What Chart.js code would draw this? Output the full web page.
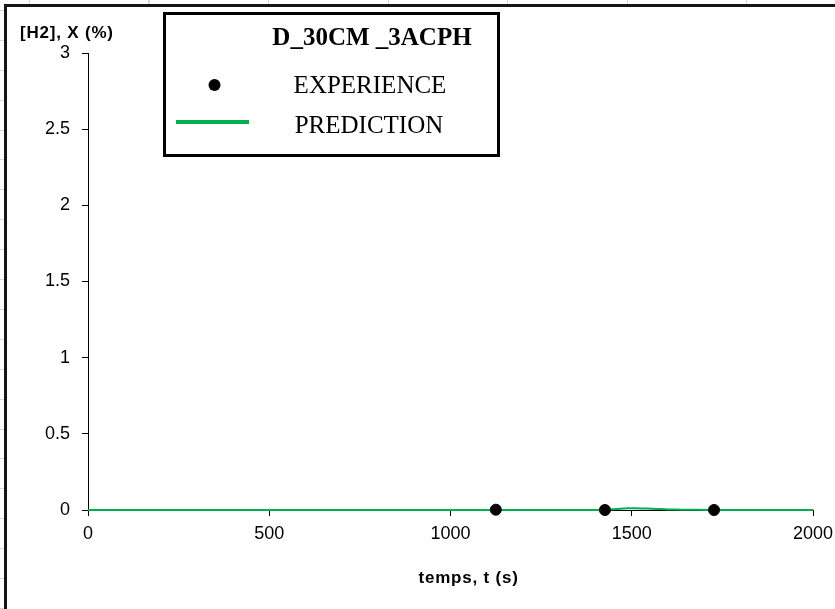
<!DOCTYPE html>
<html>
<head>
<meta charset="utf-8">
<script src="https://cdn.jsdelivr.net/npm/chart.js@4/dist/chart.umd.min.js"></script>
<style>
  html, body { margin: 0; padding: 0; }
  body {
    width: 835px; height: 609px; position: relative; overflow: hidden;
    background-color: #fff;
    background-image:
      repeating-linear-gradient(to right, transparent 0, transparent 29px, #d6d6d6 29px, #d6d6d6 30px, transparent 30px, transparent 119.5px),
      repeating-linear-gradient(to bottom, transparent 0, transparent 10px, #d6d6d6 10px, #d6d6d6 11px, transparent 11px, transparent 29.9px);
  }
  #frame {
    position: absolute; left: 4px; top: 4px; right: -10px; bottom: -10px;
    background: #fff; border-left: 3px solid #151515; border-top: 3px solid #151515;
  }
  #wrap { position: absolute; left: 0; top: 0; width: 835px; height: 609px; }
</style>
</head>
<body>
<div id="frame"></div>
<div id="wrap"><canvas id="c" width="835" height="609"></canvas></div>
<script>
// ---- data ----
const chartTitle = "D_30CM _3ACPH";
const xAxisTitle = "temps, t (s)";
const yAxisTitle = "[H2], X (%)";
const seriesNames = ["EXPERIENCE", "PREDICTION"];

const expTimes  = [1125, 1426, 1727];
const expValues = [0.002, 0, 0];

const predTimes  = [0, 250, 500, 750, 1000, 1250, 1400, 1430, 1460, 1490, 1510, 1540, 1570, 1600, 1640, 1680, 1750, 2000];
const predValues = [0, 0, 0, 0, 0, 0, 0, 0.002, 0.007, 0.011, 0.012, 0.010, 0.007, 0.004, 0.002, 0.001, 0, 0];

const xTickValues = [0, 500, 1000, 1500, 2000];
const xTickLabels = ["0", "500", "1000", "1500", "2000"];
const yTickValues = [0, 0.5, 1, 1.5, 2, 2.5, 3];
const yTickLabels = ["0", "0.5", "1", "1.5", "2", "2.5", "3"];

const expPoints  = expTimes.map((t, i) => ({ x: t, y: expValues[i] }));
const predPoints = predTimes.map((t, i) => ({ x: t, y: predValues[i] }));

const AXIS_FONT = "'Liberation Sans', Arial, sans-serif";
const SERIF = "'Liberation Serif', 'Times New Roman', serif";

const overlay = {
  id: 'overlay',
  afterDraw(chart) {
    const ctx = chart.ctx;
    const a = chart.chartArea;
    ctx.save();
    ctx.fillStyle = '#000';
    ctx.font = "bold 17px " + AXIS_FONT;
    ctx.letterSpacing = "0.8px";
    ctx.textAlign = 'left';
    ctx.textBaseline = 'alphabetic';
    ctx.fillText(yAxisTitle, a.left - 68, a.top - 15);
    ctx.textAlign = 'center';
    ctx.fillText(xAxisTitle, a.left + (a.right - a.left) * 0.525, a.bottom + 73);
    ctx.letterSpacing = "0px";

    const bx = 164.5, by = 13.5, bw = 334, bh = 142;
    ctx.fillStyle = '#fff';
    ctx.fillRect(bx, by, bw, bh);
    ctx.lineWidth = 3;
    ctx.strokeStyle = '#000';
    ctx.strokeRect(bx, by, bw, bh);

    ctx.fillStyle = '#000';
    ctx.textAlign = 'center';
    ctx.font = "bold 25px " + SERIF;
    ctx.fillText(chartTitle, 372, 45);

    const dsE = chart.data.datasets[0];
    const dsP = chart.data.datasets[1];
    ctx.beginPath();
    ctx.arc(214.5, 85, 6, 0, Math.PI * 2);
    ctx.fillStyle = dsE.backgroundColor;
    ctx.fill();
    ctx.fillStyle = '#000';
    ctx.font = "25px " + SERIF;
    ctx.fillText(dsE.label, 370, 93);
    ctx.beginPath();
    ctx.moveTo(176, 122);
    ctx.lineTo(249, 122);
    ctx.lineWidth = 4;
    ctx.strokeStyle = dsP.borderColor;
    ctx.stroke();
    ctx.fillText(dsP.label, 369, 133);
    ctx.restore();
  }
};

new Chart(document.getElementById('c'), {
  type: 'scatter',
  data: {
    datasets: [
      {
        label: seriesNames[0],
        data: expPoints,
        backgroundColor: '#000',
        borderColor: '#000',
        pointRadius: 5.5,
        pointHoverRadius: 5.5,
        showLine: false,
        clip: false,
        order: 0
      },
      {
        label: seriesNames[1],
        data: predPoints,
        borderColor: '#00b050',
        backgroundColor: '#00b050',
        borderWidth: 2,
        pointRadius: 0,
        showLine: true,
        tension: 0.3,
        clip: false,
        order: 1
      }
    ]
  },
  options: {
    responsive: false,
    animation: false,
    events: [],
    layout: { padding: { left: 0, right: 22, top: 53, bottom: 0 } },
    plugins: { legend: { display: false }, tooltip: { enabled: false }, title: { display: false } },
    scales: {
      x: {
        type: 'linear',
        min: 0, max: 2000,
        afterFit(s) { s.height = 99; s.paddingRight = 0; s.paddingLeft = 0; },
        afterBuildTicks(s) { s.ticks = xTickValues.map(v => ({ value: v })); },
        grid: { drawOnChartArea: false, drawTicks: true, tickLength: 6, tickColor: '#000', tickWidth: 1 },
        border: { display: true, color: '#000', width: 1 },
        ticks: {
          color: '#000', padding: 7, font: { family: AXIS_FONT, size: 18 }, maxRotation: 0,
          callback: (v) => xTickLabels[xTickValues.indexOf(v)]
        }
      },
      y: {
        type: 'linear',
        min: 0, max: 3,
        afterFit(s) { s.width = 88; s.paddingTop = 0; s.paddingBottom = 0; },
        afterBuildTicks(s) { s.ticks = yTickValues.map(v => ({ value: v })); },
        grid: { drawOnChartArea: false, drawTicks: true, tickLength: 6, tickColor: '#000', tickWidth: 1 },
        border: { display: true, color: '#000', width: 1 },
        ticks: {
          color: '#000', padding: 12, font: { family: AXIS_FONT, size: 18 },
          callback: (v) => yTickLabels[yTickValues.indexOf(v)]
        }
      }
    }
  },
  plugins: [overlay]
});
</script>
</body>
</html>
